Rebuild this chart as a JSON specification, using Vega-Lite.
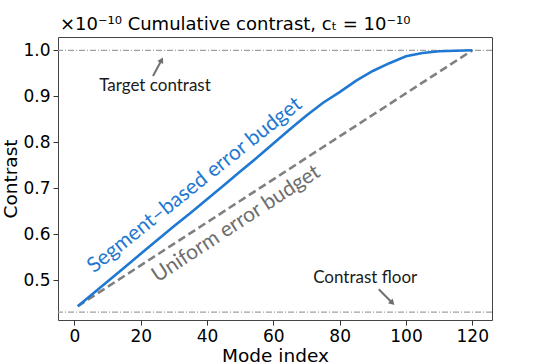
{
  "$schema": "https://vega.github.io/schema/vega-lite/v6.json",
  "width": 434,
  "height": 283,
  "autosize": "none",
  "padding": {"left": 58, "top": 37, "right": 53, "bottom": 44},
  "background": "white",
  "config": {
    "view": {"stroke": "#444444", "strokeWidth": 1},
    "axis": {
      "domain": false,
      "grid": false,
      "ticks": true,
      "tickSize": 5,
      "tickColor": "#333333",
      "tickWidth": 1,
      "labelFont": "DejaVu Sans",
      "labelFontSize": 17,
      "labelColor": "#000000",
      "labelPadding": 3,
      "titleFont": "DejaVu Sans",
      "titleFontSize": 18.5,
      "titleFontWeight": "normal",
      "titleColor": "#000000"
    }
  },
  "title": {
    "text": "×10⁻¹⁰ Cumulative contrast, cₜ = 10⁻¹⁰",
    "anchor": "start",
    "frame": "group",
    "font": "DejaVu Sans",
    "fontSize": 18,
    "fontWeight": "normal",
    "color": "#000000",
    "offset": 3,
    "dx": 2
  },
  "datasets": {
    "curve": [
      {"mode": 1, "contrast": 0.443},
      {"mode": 5, "contrast": 0.467},
      {"mode": 10, "contrast": 0.497},
      {"mode": 15, "contrast": 0.527},
      {"mode": 20, "contrast": 0.557},
      {"mode": 25, "contrast": 0.587},
      {"mode": 30, "contrast": 0.617},
      {"mode": 35, "contrast": 0.646},
      {"mode": 40, "contrast": 0.676},
      {"mode": 45, "contrast": 0.706},
      {"mode": 50, "contrast": 0.736},
      {"mode": 55, "contrast": 0.766},
      {"mode": 60, "contrast": 0.797},
      {"mode": 65, "contrast": 0.828},
      {"mode": 70, "contrast": 0.858},
      {"mode": 75, "contrast": 0.886},
      {"mode": 80, "contrast": 0.909},
      {"mode": 85, "contrast": 0.934},
      {"mode": 90, "contrast": 0.955},
      {"mode": 95, "contrast": 0.972},
      {"mode": 100, "contrast": 0.987},
      {"mode": 105, "contrast": 0.994},
      {"mode": 110, "contrast": 0.998},
      {"mode": 115, "contrast": 0.999},
      {"mode": 120, "contrast": 1.0}
    ],
    "uniform": [
      {"mode": 1, "contrast": 0.443},
      {"mode": 120, "contrast": 1.0}
    ],
    "levels": [
      {"level": 1.0},
      {"level": 0.43}
    ],
    "targetArrow": [{"x": 23.7, "y": 0.944, "x2": 26.3, "y2": 0.979}],
    "floorArrow": [{"x": 91.8, "y": 0.48, "x2": 95.9, "y2": 0.45}],
    "notes": [
      {"label": "Target contrast", "x": 24.3, "y": 0.9227},
      {"label": "Contrast floor", "x": 87.7, "y": 0.5037}
    ],
    "blueLabel": [{"label": "Segment–based error budget", "x": 36.3, "y": 0.706}],
    "grayLabel": [{"label": "Uniform error budget", "x": 48.8, "y": 0.622}]
  },
  "layer": [
    {
      "data": {"name": "levels"},
      "mark": {"type": "rule", "color": "#a0a0a0", "strokeWidth": 1.2, "strokeDash": [6, 2, 1, 2]},
      "encoding": {
        "y": {"field": "level", "type": "quantitative", "scale": {"domain": [0.413, 1.029], "nice": false, "zero": false}, "axis": {"values": [0.5, 0.6, 0.7, 0.8, 0.9, 1.0], "format": ".1f", "title": "Contrast", "titlePadding": 2}}
      }
    },
    {
      "data": {"name": "uniform"},
      "mark": {"type": "line", "color": "#808080", "strokeWidth": 2.6, "strokeDash": [8, 4]},
      "encoding": {
        "x": {"field": "mode", "type": "quantitative", "scale": {"domain": [-4.95, 125.95], "nice": false, "zero": false}, "axis": {"values": [0, 20, 40, 60, 80, 100, 120], "title": "Mode index", "titlePadding": 2}},
        "y": {"field": "contrast", "type": "quantitative", "scale": {"domain": [0.413, 1.029], "nice": false, "zero": false}}
      }
    },
    {
      "data": {"name": "curve"},
      "mark": {"type": "line", "color": "#1f78d1", "strokeWidth": 2.6},
      "encoding": {
        "x": {"field": "mode", "type": "quantitative", "scale": {"domain": [-4.95, 125.95], "nice": false, "zero": false}},
        "y": {"field": "contrast", "type": "quantitative", "scale": {"domain": [0.413, 1.029], "nice": false, "zero": false}}
      }
    },
    {
      "data": {"name": "targetArrow"},
      "mark": {"type": "rule", "color": "#707070", "strokeWidth": 2},
      "encoding": {
        "x": {"field": "x", "type": "quantitative", "scale": {"domain": [-4.95, 125.95], "nice": false, "zero": false}},
        "y": {"field": "y", "type": "quantitative", "scale": {"domain": [0.413, 1.029], "nice": false, "zero": false}},
        "x2": {"field": "x2"},
        "y2": {"field": "y2"}
      }
    },
    {
      "data": {"name": "targetArrow"},
      "mark": {"type": "point", "shape": "triangle-up", "filled": true, "color": "#707070", "size": 45, "angle": 28.5, "opacity": 1},
      "encoding": {
        "x": {"field": "x2", "type": "quantitative", "scale": {"domain": [-4.95, 125.95], "nice": false, "zero": false}},
        "y": {"field": "y2", "type": "quantitative", "scale": {"domain": [0.413, 1.029], "nice": false, "zero": false}}
      }
    },
    {
      "data": {"name": "floorArrow"},
      "mark": {"type": "rule", "color": "#707070", "strokeWidth": 2},
      "encoding": {
        "x": {"field": "x", "type": "quantitative", "scale": {"domain": [-4.95, 125.95], "nice": false, "zero": false}},
        "y": {"field": "y", "type": "quantitative", "scale": {"domain": [0.413, 1.029], "nice": false, "zero": false}},
        "x2": {"field": "x2"},
        "y2": {"field": "y2"}
      }
    },
    {
      "data": {"name": "floorArrow"},
      "mark": {"type": "point", "shape": "triangle-up", "filled": true, "color": "#707070", "size": 45, "angle": 135, "opacity": 1},
      "encoding": {
        "x": {"field": "x2", "type": "quantitative", "scale": {"domain": [-4.95, 125.95], "nice": false, "zero": false}},
        "y": {"field": "y2", "type": "quantitative", "scale": {"domain": [0.413, 1.029], "nice": false, "zero": false}}
      }
    },
    {
      "data": {"name": "notes"},
      "mark": {"type": "text", "font": "Lato", "fontSize": 17, "color": "#1a1a1a", "align": "center", "baseline": "middle"},
      "encoding": {
        "x": {"field": "x", "type": "quantitative", "scale": {"domain": [-4.95, 125.95], "nice": false, "zero": false}},
        "y": {"field": "y", "type": "quantitative", "scale": {"domain": [0.413, 1.029], "nice": false, "zero": false}},
        "text": {"field": "label"}
      }
    },
    {
      "data": {"name": "blueLabel"},
      "mark": {"type": "text", "font": "Lato", "fontSize": 21, "color": "#1f78d1", "align": "center", "baseline": "middle", "angle": -38.6},
      "encoding": {
        "x": {"field": "x", "type": "quantitative", "scale": {"domain": [-4.95, 125.95], "nice": false, "zero": false}},
        "y": {"field": "y", "type": "quantitative", "scale": {"domain": [0.413, 1.029], "nice": false, "zero": false}},
        "text": {"field": "label"}
      }
    },
    {
      "data": {"name": "grayLabel"},
      "mark": {"type": "text", "font": "Lato", "fontSize": 21, "color": "#6e6e6e", "align": "center", "baseline": "middle", "angle": -33.2},
      "encoding": {
        "x": {"field": "x", "type": "quantitative", "scale": {"domain": [-4.95, 125.95], "nice": false, "zero": false}},
        "y": {"field": "y", "type": "quantitative", "scale": {"domain": [0.413, 1.029], "nice": false, "zero": false}},
        "text": {"field": "label"}
      }
    }
  ]
}
